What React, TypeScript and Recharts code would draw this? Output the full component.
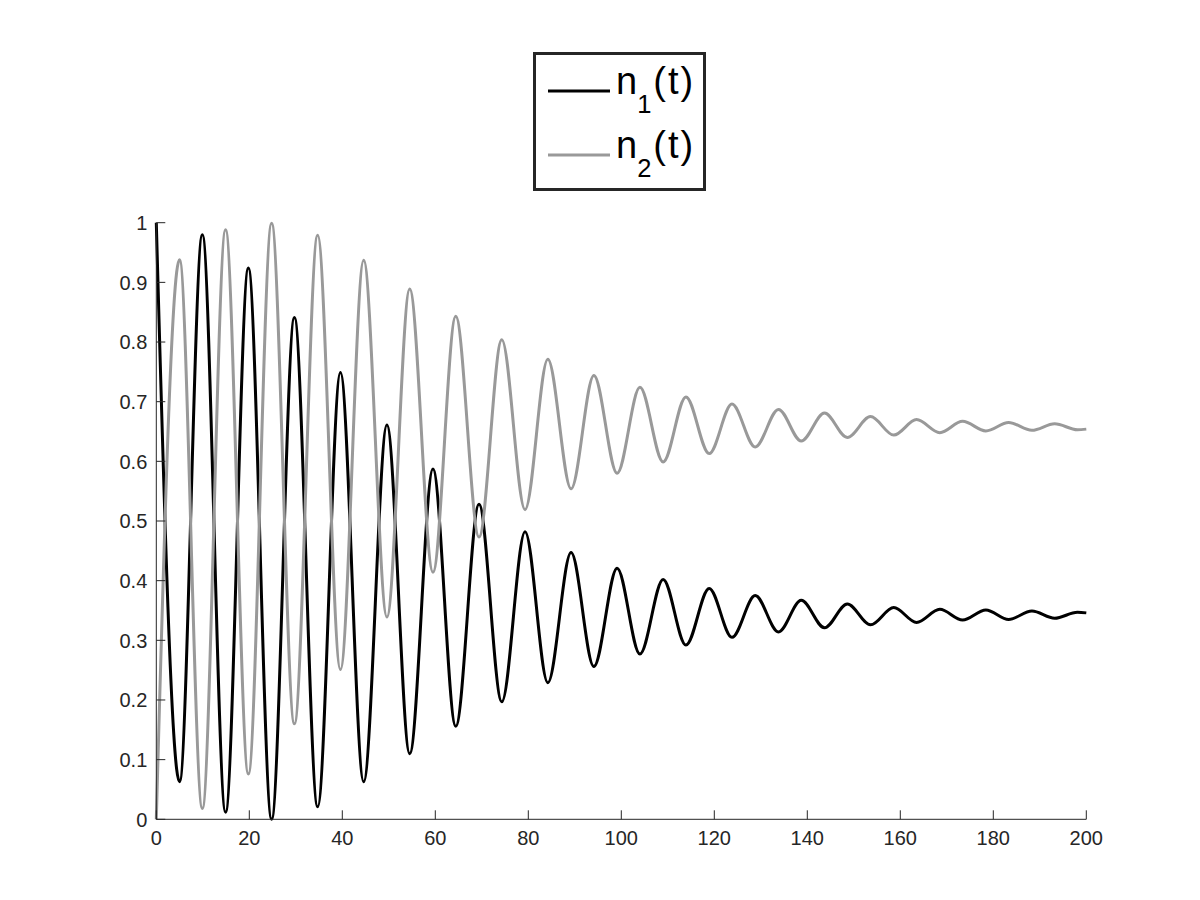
import React from 'react'
import { LineChart, Line, XAxis, YAxis } from 'recharts'

// extrema of the two curves (t, n1, n2)
const T = [
  0, 5.0, 9.9, 14.9, 19.8, 24.8, 29.7, 34.7, 39.6, 44.6, 49.6, 54.5, 59.5, 64.4,
  69.4, 74.3, 79.3, 84.2, 89.2, 94.1, 99.1, 104.0, 109.0, 113.9, 118.9, 123.8,
  128.8, 133.8, 138.7, 143.7, 148.6, 153.6, 158.6, 163.5, 168.5, 173.4, 178.4,
  183.3, 188.3, 193.2, 198.1, 200,
]

const N1 = [
  1.0, 0.063, 0.98, 0.012, 0.924, 0.0, 0.841, 0.021, 0.749, 0.063, 0.661, 0.11,
  0.587, 0.156, 0.528, 0.197, 0.482, 0.229, 0.447, 0.256, 0.421, 0.277, 0.402,
  0.292, 0.387, 0.305, 0.375, 0.314, 0.367, 0.321, 0.361, 0.326, 0.355, 0.33,
  0.352, 0.334, 0.351, 0.335, 0.349, 0.337, 0.347, 0.346,
]

const N2 = [
  0.0, 0.938, 0.018, 0.988, 0.076, 0.999, 0.16, 0.979, 0.251, 0.937, 0.339,
  0.889, 0.414, 0.843, 0.473, 0.804, 0.519, 0.771, 0.554, 0.744, 0.58, 0.724,
  0.599, 0.708, 0.613, 0.696, 0.624, 0.687, 0.634, 0.681, 0.64, 0.675, 0.644,
  0.67, 0.648, 0.667, 0.651, 0.665, 0.652, 0.663, 0.653, 0.654,
]

const X_TICKS = [0, 20, 40, 60, 80, 100, 120, 140, 160, 180, 200]
const Y_TICKS = [0, 0.1, 0.2, 0.3, 0.4, 0.5, 0.6, 0.7, 0.8, 0.9, 1]

const AXIS = '#262626'
const GRAY = '#999999'
const FONT = '"Liberation Sans", Arial, Helvetica, sans-serif'

const data = T.map((t, i) => ({ t, n1: N1[i], n2: N2[i] }))

// MATLAB style ticks: short marks pointing into the plot
function XTick(props: any) {
  const { x, y, payload } = props
  return (
    <g>
      <line x1={x} x2={x} y1={y} y2={y - 9} stroke={AXIS} strokeWidth={1} />
      <text x={x} y={y + 26} textAnchor="middle" fontSize={20} fill={AXIS} fontFamily={FONT}>
        {String(payload.value)}
      </text>
    </g>
  )
}

function YTick(props: any) {
  const { x, y, payload } = props
  return (
    <g>
      <line x1={x} x2={x + 9} y1={y} y2={y} stroke={AXIS} strokeWidth={1} />
      <text x={x - 9} y={y} dy="0.36em" textAnchor="end" fontSize={20} fill={AXIS} fontFamily={FONT}>
        {String(payload.value)}
      </text>
    </g>
  )
}

function LegendBox() {
  const rows = [
    { color: '#000000', sub: '1', y: 91, base: 93.5 },
    { color: GRAY, sub: '2', y: 155, base: 157.5 },
  ]
  return (
    <svg
      width={1200}
      height={900}
      style={{ position: 'absolute', left: 0, top: 0, pointerEvents: 'none' }}
    >
      <rect x={534.5} y={53.5} width={170} height={136} fill="#ffffff" stroke={AXIS} strokeWidth={3} />
      {rows.map((r) => (
        <g key={r.sub}>
          <line x1={548} x2={610} y1={r.y} y2={r.y} stroke={r.color} strokeWidth={3} />
          <text x={616} y={r.base} fontSize={38} fill="#000" fontFamily={FONT}>
            <tspan>n</tspan>
            <tspan fontSize={25.5} dy={19}>{r.sub}</tspan>
            <tspan dy={-19} dx={2} letterSpacing={2}>(t)</tspan>
          </text>
        </g>
      ))}
    </svg>
  )
}

export default function App() {
  return (
    <div
      style={{
        position: 'absolute',
        left: 0,
        top: 0,
        width: 1200,
        height: 900,
        background: '#ffffff',
      }}
    >
      <LineChart
        width={1200}
        height={900}
        data={data}
        margin={{ top: 222.7, right: 113.7, bottom: 50.7, left: 96.3 }}
      >
        <XAxis
          dataKey="t"
          type="number"
          domain={[0, 200]}
          ticks={X_TICKS}
          interval={0}
          height={30}
          tickSize={0}
          tickMargin={0}
          tickLine={false}
          axisLine={{ stroke: AXIS, strokeWidth: 1 }}
          tick={<XTick />}
        />
        <YAxis
          type="number"
          domain={[0, 1]}
          ticks={Y_TICKS}
          interval={0}
          width={60}
          tickSize={0}
          tickMargin={0}
          tickLine={false}
          axisLine={{ stroke: AXIS, strokeWidth: 1 }}
          tick={<YTick />}
        />
        <Line
          dataKey="n1"
          type="monotone"
          stroke="#000000"
          strokeWidth={3}
          dot={false}
          isAnimationActive={false}
        />
        <Line
          dataKey="n2"
          type="monotone"
          stroke={GRAY}
          strokeWidth={3}
          dot={false}
          isAnimationActive={false}
        />
      </LineChart>
      <LegendBox />
    </div>
  )
}
